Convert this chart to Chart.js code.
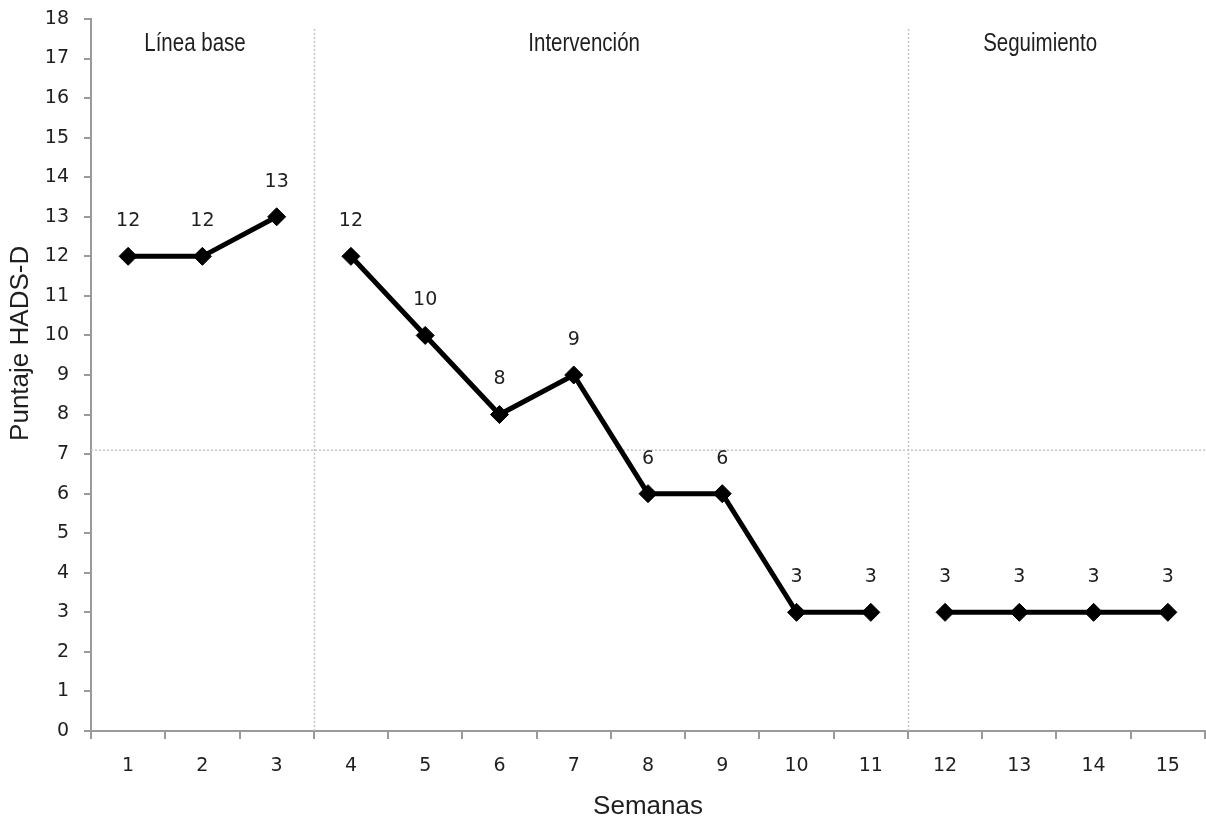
<!DOCTYPE html>
<html>
<head>
<meta charset="utf-8">
<script src="https://cdn.jsdelivr.net/npm/chart.js@4.4.1/dist/chart.umd.min.js"></script>
<style>
html,body{margin:0;padding:0;background:#fff;}
#wrap{width:1206px;height:822px;}
</style>
</head>
<body>
<div id="wrap"><canvas id="c" width="1206" height="822"></canvas></div>
<script>
const weeks = ['1','2','3','4','5','6','7','8','9','10','11','12','13','14','15'];
const baseline     = [12, 12, 13, null, null, null, null, null, null, null, null, null, null, null, null];
const intervention = [null, null, null, 12, 10, 8, 9, 6, 6, 3, 3, null, null, null, null];
const followUp     = [null, null, null, null, null, null, null, null, null, null, null, 3, 3, 3, 3];
const phaseNames = ['Línea base', 'Intervención', 'Seguimiento'];
const phaseLabelAt = [0.9, 6.14, 12.28];
const phaseBounds = [2.5, 10.5];
const cutoff = 7.1;
const yTicks = [0,1,2,3,4,5,6,7,8,9,10,11,12,13,14,15,16,17,18];
const yTitle = 'Puntaje HADS-D';
const yTitleAt = 9.8;

const TXT = '#1f1f1f';
const AX = '#9a9a9a';

const overlay = {
  id: 'overlay',
  beforeDatasetsDraw(chart) {
    const {ctx, chartArea: a} = chart;
    const xs = chart.scales.x, ys = chart.scales.y;
    ctx.save();
    ctx.strokeStyle = '#c4c4c4';
    ctx.lineWidth = 1.5;
    ctx.setLineDash([2, 2]);
    const yc = ys.getPixelForValue(cutoff);
    ctx.beginPath(); ctx.moveTo(a.left, yc); ctx.lineTo(a.right, yc); ctx.stroke();
    phaseBounds.forEach(b => {
      const x = Math.round(xs.getPixelForValue(b)) + 0.5;
      ctx.beginPath();
      ctx.moveTo(x, ys.getPixelForValue(17.75));
      ctx.lineTo(x, a.bottom);
      ctx.stroke();
    });
    ctx.setLineDash([]);
    ctx.fillStyle = TXT;
    ctx.font = '25px "Liberation Sans", Arial, sans-serif';
    ctx.textAlign = 'center';
    ctx.textBaseline = 'middle';
    phaseNames.forEach((n, i) => {
      const px = xs.getPixelForValue(phaseLabelAt[i]);
      const py = ys.getPixelForValue(17.36);
      ctx.save();
      ctx.translate(px, py);
      ctx.scale(0.82, 1);
      ctx.fillText(n, 0, 0);
      ctx.restore();
    });
    ctx.save();
    ctx.font = '26px "Liberation Sans", Arial, sans-serif';
    ctx.translate(21, ys.getPixelForValue(yTitleAt));
    ctx.rotate(-Math.PI / 2);
    ctx.fillText(yTitle, 0, 0);
    ctx.restore();
    ctx.restore();
  },
  afterDatasetsDraw(chart) {
    const {ctx} = chart;
    ctx.save();
    ctx.fillStyle = TXT;
    ctx.font = '19px "DejaVu Sans", Verdana, sans-serif';
    ctx.textAlign = 'center';
    ctx.textBaseline = 'middle';
    chart.data.datasets.forEach((ds, di) => {
      const meta = chart.getDatasetMeta(di);
      meta.data.forEach((pt, i) => {
        const v = ds.data[i];
        if (v === null || v === undefined) return;
        ctx.fillText(String(v), pt.x, pt.y - 35);
      });
    });
    ctx.restore();
  }
};

function ds(label, data) {
  return {
    label, data,
    borderColor: '#000',
    backgroundColor: '#000',
    borderWidth: 5,
    pointStyle: 'rectRot',
    pointRadius: 9,
    pointHoverRadius: 9,
    pointBackgroundColor: '#000',
    pointBorderColor: '#000',
    pointBorderWidth: 1,
    spanGaps: false,
    tension: 0
  };
}

new Chart(document.getElementById('c'), {
  type: 'line',
  data: {
    labels: weeks,
    datasets: [ds('Línea base', baseline), ds('Intervención', intervention), ds('Seguimiento', followUp)]
  },
  options: {
    responsive: false,
    animation: false,
    events: [],
    layout: { autoPadding: false, padding: { top: 19, right: 1, bottom: 0, left: 0 } },
    plugins: { legend: { display: false }, tooltip: { enabled: false } },
    scales: {
      x: {
        type: 'category',
        offset: true,
        grid: { offset: true, drawOnChartArea: false, drawTicks: true, tickLength: 8, color: AX, lineWidth: 2 },
        border: { display: true, color: AX, width: 2 },
        ticks: { color: TXT, font: { family: '"DejaVu Sans", Verdana, sans-serif', size: 19 }, padding: 16, maxRotation: 0, autoSkip: false },
        title: { display: true, text: 'Semanas', color: TXT, font: { family: '"Liberation Sans", Arial, sans-serif', size: 26 }, padding: { top: 0, bottom: 0 } },
        afterFit(s) { s.height = 91; s.paddingLeft = 0; s.paddingRight = 0; }
      },
      y: {
        min: 0, max: 18,
        afterBuildTicks(s) { s.ticks = yTicks.map(v => ({ value: v })); },
        grid: { drawOnChartArea: false, drawTicks: true, tickLength: 7, color: AX, lineWidth: 2 },
        border: { display: true, color: AX, width: 2 },
        ticks: { color: TXT, font: { family: '"DejaVu Sans", Verdana, sans-serif', size: 19 }, padding: 15 },
        title: { display: false },
        afterFit(s) { s.width = 91; s.paddingTop = 0; s.paddingBottom = 0; }
      }
    }
  },
  plugins: [overlay]
});
</script>
</body>
</html>
